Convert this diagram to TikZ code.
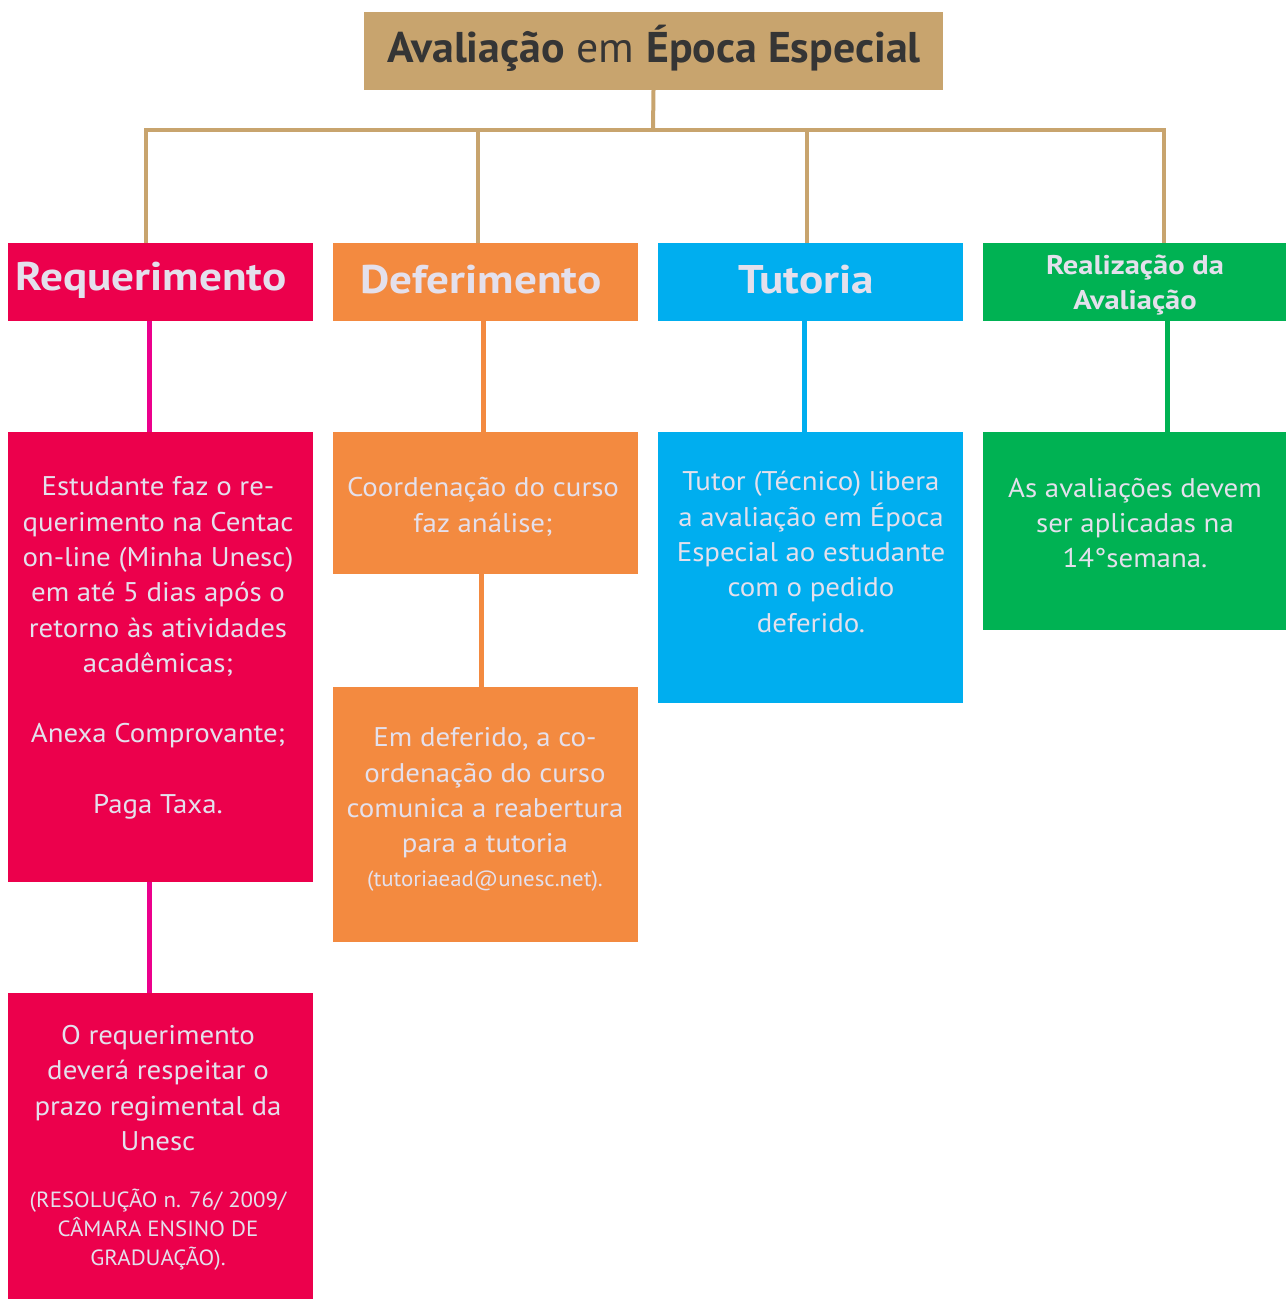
\documentclass[tikz,border=0pt]{standalone}
\usepackage{fontspec}
\setmainfont{PT Sans}
\newfontfamily\bodyf[FakeStretch=1.07]{PT Sans}
\newfontfamily\smallf[FakeStretch=1.04]{PT Sans}
\newfontfamily\headf[FakeStretch=1.13]{PT Sans}
\newfontfamily\titlef[FakeStretch=1.02]{PT Sans}
\definecolor{goldc}{HTML}{C8A46E}
\definecolor{redc}{HTML}{EC004C}
\definecolor{magc}{HTML}{EC008C}
\definecolor{orangec}{HTML}{F38A40}
\definecolor{bluec}{HTML}{00AEEF}
\definecolor{greenc}{HTML}{00B253}
\definecolor{txtc}{HTML}{E4E0EC}
\definecolor{darkc}{HTML}{353535}
\begin{document}
\begin{tikzpicture}[x=1pt,y=-1pt,
  box/.style={draw=none,inner sep=0pt,outer sep=0pt,anchor=north west},
  body/.style={text=txtc,align=center,inner sep=0pt,font=\bodyf\fontsize{27}{35.3}\selectfont},
  small/.style={text=txtc,align=center,inner sep=0pt,font=\smallf\fontsize{22}{29}\selectfont},
  head/.style={text=txtc,inner sep=0pt,font=\headf\fontsize{40}{44}\selectfont\bfseries},
  headsm/.style={text=txtc,align=center,inner sep=0pt,font=\headf\fontsize{27}{35}\selectfont\bfseries},
  trunk/.style={draw=goldc,line width=4pt},
  conn/.style={line width=5pt}]
\useasboundingbox (0,0) rectangle (1286,1299);

% title
\node[box,fill=goldc,minimum width=579pt,minimum height=78pt] (title) at (364,12) {};
\node[text=darkc,inner sep=0pt,font=\titlef\fontsize{43}{46}\selectfont] (tt) at (654,48)
  {\textbf{Avaliação} em \textbf{Época Especial}};

% headers
\node[box,fill=redc,minimum width=305pt,minimum height=78pt] (h1) at (8,243) {};
\node[box,fill=orangec,minimum width=305pt,minimum height=78pt] (h2) at (333,243) {};
\node[box,fill=bluec,minimum width=305pt,minimum height=78pt] (h3) at (658,243) {};
\node[box,fill=greenc,minimum width=303pt,minimum height=78pt] (h4) at (983,243) {};
\node[head] (t1) at (151,280) {Requerimento};
\node[head] (t2) at (481,280) {Deferimento};
\node[head] (t3) at (806,280) {Tutoria};
\node[headsm] (t4) at (1135,285) {Realização da\\Avaliação};

% body boxes
\node[box,fill=redc,minimum width=305pt,minimum height=450pt] (b1) at (8,432) {};
\node[box,fill=redc,minimum width=305pt,minimum height=306pt] (b2) at (8,993) {};
\node[box,fill=orangec,minimum width=305pt,minimum height=142pt] (c1) at (333,432) {};
\node[box,fill=orangec,minimum width=305pt,minimum height=255pt] (c2) at (333,687) {};
\node[box,fill=bluec,minimum width=305pt,minimum height=271pt] (d1) at (658,432) {};
\node[box,fill=greenc,minimum width=303pt,minimum height=198pt] (e1) at (983,432) {};

% trunk connectors
\draw[trunk] (title.south) -- (653,130);
\draw[trunk] (146,0 |- h1.north) -- (146,130) -- (1164,130) -- (1164,0 |- h4.north);
\draw[trunk] (478,0 |- h2.north) -- (478,130);
\draw[trunk] (807,0 |- h3.north) -- (807,130);

% column connectors
\draw[conn,draw=magc] (149,0 |- h1.south) -- (149,0 |- b1.north);
\draw[conn,draw=magc] (149,0 |- b1.south) -- (149,0 |- b2.north);
\draw[conn,draw=orangec] (483,0 |- h2.south) -- (483,0 |- c1.north);
\draw[conn,draw=orangec] (481,0 |- c1.south) -- (481,0 |- c2.north);
\draw[conn,draw=bluec] (804,0 |- h3.south) -- (804,0 |- d1.north);
\draw[conn,draw=greenc] (1167,0 |- h4.south) -- (1167,0 |- e1.north);

% body texts
\node[body] (x1) at (158,648) {Estudante faz o re-\\querimento na Centac\\on-line (Minha Unesc)\\em até 5 dias após o\\retorno às atividades\\acadêmicas;\\[35.3pt]Anexa Comprovante;\\[35.3pt]Paga Taxa.};
\node[body] (x2) at (158,1088) {O requerimento\\deverá respeitar o\\prazo regimental da\\Unesc};
\node[small] (x2b) at (158,1230) {(RESOLUÇÃO n. 76/ 2009/\\CÂMARA ENSINO DE\\GRADUAÇÃO).};
\node[body] (y1) at (483,507) {Coordenação do curso\\faz análise;};
\node[body] (y2) at (485,793) {Em deferido, a co-\\ordenação do curso\\comunica a reabertura\\para a tutoria};
\node[small] (y2b) at (485,881) {(tutoriaead@unesc.net).};
\node[body] (z1) at (811,552) {Tutor (Técnico) libera\\a avaliação em Época\\Especial ao estudante\\com o pedido\\deferido.};
\node[body] (w1) at (1135,523) {As avaliações devem\\ser aplicadas na\\14°semana.};
\end{tikzpicture}
\end{document}
